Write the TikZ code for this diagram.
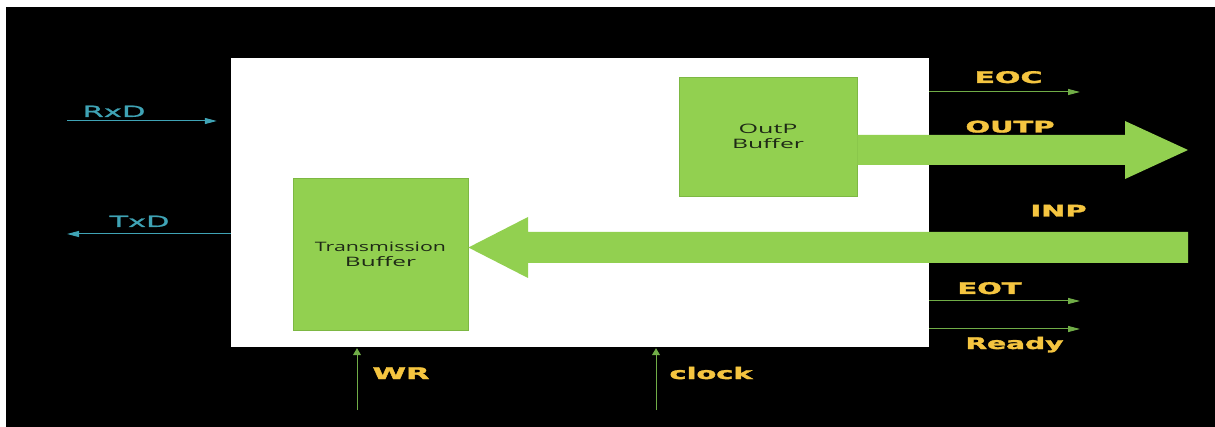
\documentclass[tikz,border=0pt]{standalone}
\usepackage{fontspec}
\usepackage{graphicx}
\usetikzlibrary{arrows.meta}
\newfontfamily\ylabfont{DejaVu Sans}[BoldFeatures={FakeBold=1.6}]
\newfontfamily\tlabfont{DejaVu Sans}[FakeBold=0.8]
\newfontfamily\boxfont{Open Sans}
\newcommand\fitw[2]{\resizebox{#1}{\height}{#2}}
\definecolor{gfill}{HTML}{92D050}
\definecolor{gedge}{HTML}{7DB843}
\definecolor{gline}{HTML}{70AD47}
\definecolor{ylab}{HTML}{F5C540}
\definecolor{tlab}{HTML}{3FA3B5}
\definecolor{btext}{HTML}{1E2916}
\tikzset{
  gbox/.style={draw=gedge, line width=0.8pt, fill=gfill, inner sep=0pt},
  btxt/.style={text=btext, align=center, font=\boxfont\fontsize{13}{15}\selectfont},
  ylabel/.style={text=ylab, anchor=base, inner sep=0pt, font=\ylabfont\bfseries\fontsize{16}{18}\selectfont},
  tlabel/.style={text=tlab, anchor=base, inner sep=0pt, font=\tlabfont\fontsize{15.5}{18}\selectfont},
  tconn/.style={draw=tlab, line width=1pt, -{Triangle[length=12pt,width=6pt]}},
  gconn/.style={draw=gline, line width=1pt, -{Triangle[length=12pt,width=6pt]}},
  vconn/.style={draw=gline, line width=1pt, -{Triangle[length=7pt,width=8pt]}},
  bigarrow/.style={fill=gfill}
}
\begin{document}
\begin{tikzpicture}[x=1pt,y=-1pt]
\useasboundingbox (0,0) rectangle (1215,427);
\fill[white] (0,0) rectangle (1215,427);
\fill[black] (6,7) rectangle (1215,427);
% main block
\node[fill=white, draw=none, inner sep=0pt, minimum width=698pt, minimum height=289pt] (main) at (580,202.5) {};
% buffers
\node[gbox, minimum width=178pt, minimum height=119pt] (outp) at (768,136.5) {};
\node[btxt] (outptxt) at (outp.center) {\fitw{59pt}{OutP}\\\fitw{72pt}{Buffer}};
\node[gbox, minimum width=175pt, minimum height=152pt] (trans) at (380.5,254) {};
\node[btxt] (transtxt) at (trans.center) {\fitw{131pt}{Transmission}\\\fitw{71pt}{Buffer}};
% helper coordinates
\coordinate (y135) at (0,135);
\coordinate (y165) at (0,165);
\coordinate (outend) at (1188,150);
\coordinate (inpend) at (1188,247.5);
\coordinate (y248) at (0,247.5);
% OUTP big arrow
\fill[bigarrow] (outp.east |- y135) -- (1125,135) -- (1125,121) -- (outend) -- (1125,179) -- (1125,165) -- (outp.east |- y165) -- cycle;
% INP big arrow
\fill[bigarrow] (trans.east |- y248) -- (528,217) -- (528,232) -- (inpend |- 0,232) -- (inpend |- 0,263) -- (528,263) -- (528,278) -- cycle;
% left signals
\coordinate (rxdstart) at (67,121);
\coordinate (txdend) at (67,234);
\draw[tconn] (rxdstart) -- ([xshift=-14pt]main.west |- rxdstart);
\draw[tconn] (main.west |- txdend) -- (txdend);
% right signals
\coordinate (eocend) at (1080,92);
\coordinate (eotend) at (1080,301);
\coordinate (rdyend) at (1080,329);
\draw[gconn] (main.east |- eocend) -- (eocend);
\draw[gconn] (main.east |- eotend) -- (eotend);
\draw[gconn] (main.east |- rdyend) -- (rdyend);
% bottom signals
\coordinate (wrstart) at (357,410);
\coordinate (clkstart) at (656,410);
\draw[vconn] (wrstart) -- ([yshift=-1pt]main.south -| wrstart);
\draw[vconn] (clkstart) -- ([yshift=-1pt]main.south -| clkstart);
% labels
\node[tlabel] (rxd) at (114,117) {\fitw{63pt}{RxD}};
\node[tlabel] (txd) at (139.5,227) {\fitw{60pt}{TxD}};
\node[ylabel] (eoc) at (1008.5,83) {\fitw{68pt}{EOC}};
\node[ylabel] (outpl) at (1010,132.5) {\fitw{89pt}{OUTP}};
\node[ylabel] (inp) at (1058.5,216.5) {\fitw{56pt}{INP}};
\node[ylabel] (eot) at (989.5,294) {\fitw{64pt}{EOT}};
\node[ylabel] (ready) at (1014.5,349) {\fitw{98pt}{Ready}};
\node[ylabel] (wr) at (401,379) {\fitw{57pt}{WR}};
\node[ylabel] (clock) at (711,379) {\fitw{83pt}{clock}};
\end{tikzpicture}
\end{document}
